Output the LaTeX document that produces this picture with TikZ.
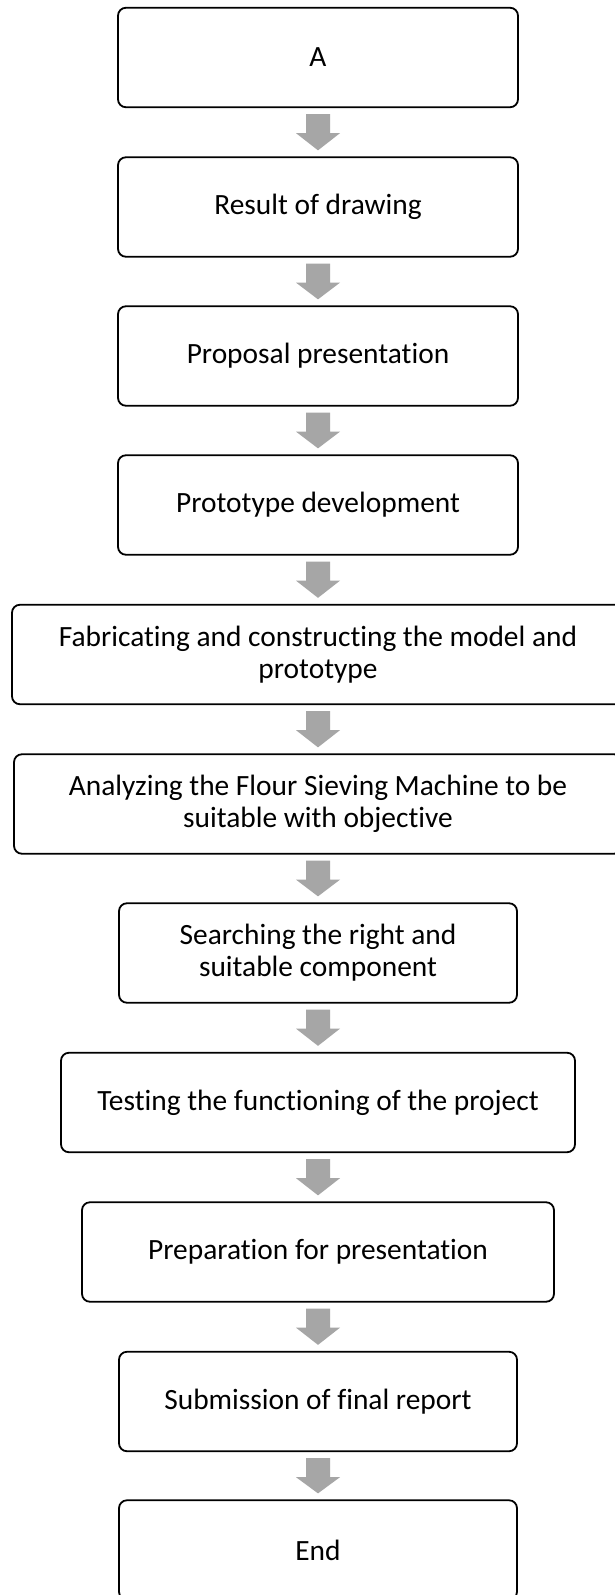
\documentclass[tikz,border=0pt]{standalone}
\usepackage{fontspec}
\setmainfont[Ligatures=NoCommon]{Carlito}
\usetikzlibrary{calc}
\definecolor{arrowgray}{HTML}{A6A6A6}
\tikzset{
  stepbox/.style={draw=black, line width=1.8pt, rounded corners=8pt,
    rectangle, minimum height=99.5pt, inner sep=0pt, align=center,
    font=\fontsize{29.4}{32}\selectfont},
  blockarrow/.style={draw=none, fill=arrowgray, to path={
    let \p1=(\tikztostart.south), \p2=(\tikztotarget.north) in
    (\x1-12pt,\y1-6pt) -- (\x1+12pt,\y1-6pt) -- (\x1+12pt,\y1-25pt)
    -- (\x1+22pt,\y1-25pt) -- (\x1,\y2+6pt) -- (\x1-22pt,\y1-25pt)
    -- (\x1-12pt,\y1-25pt) -- cycle}}
}
\begin{document}
\begin{tikzpicture}[x=1pt, y=-1pt]
\useasboundingbox (0,0) rectangle (615,1595);
\clip (0,0) rectangle (615,1595);
\fill[white] (0,0) rectangle (615,1595);

\node[stepbox, minimum width=400pt] (s1) at (318,57.5) {A};
\node[stepbox, minimum width=400pt] (s2) at (318,207) {Result of drawing};
\node[stepbox, minimum width=400pt] (s3) at (318,356) {Proposal presentation};
\node[stepbox, minimum width=400pt] (s4) at (318,505) {Prototype development};
\node[stepbox, minimum width=612pt] (s5) at (318,654.5) {Fabricating and constructing the model and\\prototype};
\node[stepbox, minimum width=608pt] (s6) at (318,804) {Analyzing the Flour Sieving Machine to be\\suitable with objective};
\node[stepbox, minimum width=398pt] (s7) at (318,953) {Searching the right and\\suitable component};
\node[stepbox, minimum width=514pt] (s8) at (318,1102.5) {Testing the functioning of the project};
\node[stepbox, minimum width=472pt] (s9) at (318,1252) {Preparation for presentation};
\node[stepbox, minimum width=398pt] (s10) at (318,1401.5) {Submission of final report};
\node[stepbox, minimum width=398pt] (s11) at (318,1550) {End};

\foreach \a/\b in {s1/s2, s2/s3, s3/s4, s4/s5, s5/s6, s6/s7, s7/s8, s8/s9, s9/s10, s10/s11}
  \path[blockarrow] (\a) to (\b);
\end{tikzpicture}
\end{document}
